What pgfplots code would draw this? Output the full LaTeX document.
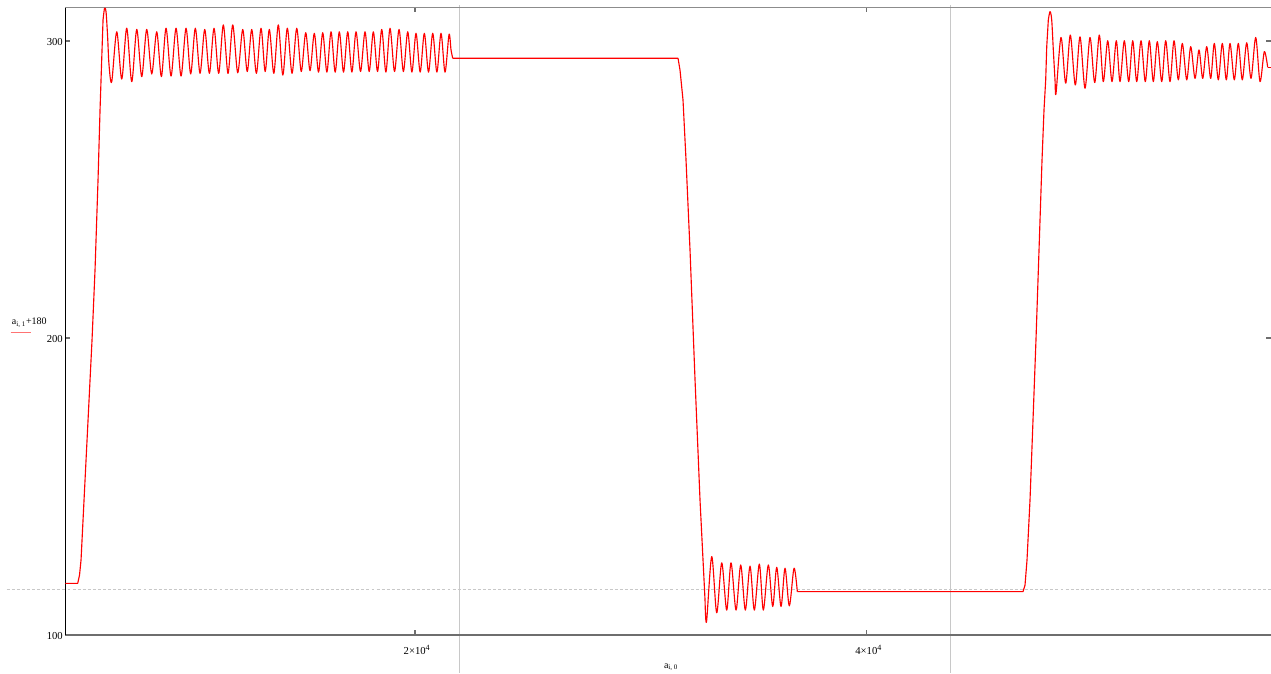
\documentclass[border=0pt]{standalone}
\usepackage{pgfplots}
\pgfplotsset{compat=1.18}
\usepackage{fontspec}
\setmainfont{Liberation Serif}
\definecolor{gridg}{RGB}{200,200,200}
\definecolor{axg}{RGB}{110,110,110}
\definecolor{topg}{RGB}{140,140,140}
\pgfplotsset{sig/.style={red, line width=0.85pt, line join=round, mark=none}}
\begin{document}
\begin{tikzpicture}[font=\fontsize{8}{9.6}\selectfont]
\begin{axis}[
  at={(0pt,0pt)}, anchor=south west,
  scale only axis, width=904.3pt, height=470.5pt,
  xmin=4516, xmax=57901, ymin=100, ymax=311.2,
  axis line style={draw=none},
  clip=false,
  xtick={20000,40000},
  xticklabels={2×10\textsuperscript{4},4×10\textsuperscript{4}},
  ytick={100,200,300},
  yticklabels={100,200,300},
  tick align=inside,
  major tick length=3.5pt,
  tick style={color=axg, line width=0.8pt},
  xticklabel style={anchor=base, inner sep=0pt, yshift=-14.3pt, xshift=1.5pt},
  yticklabel style={anchor=east, inner sep=0pt, xshift=-1.7pt, yshift=-1pt},
]
% reference lines
\draw[gridg, line width=0.75pt] (axis cs:21948,312.1) -- (axis cs:21948,87.2);
\draw[gridg, line width=0.75pt] (axis cs:43719,312.1) -- (axis cs:43719,87.2);
\draw[gridg, line width=0.75pt, dash pattern=on 2.2pt off 1.6pt] (axis cs:1922,115.4) -- (axis cs:57901,115.4);
% axis lines
\draw[axg, line width=1.5pt] (axis cs:4516,100) -- (axis cs:57901,100);
\draw[topg, line width=1.1pt] (axis cs:4516,311.2) -- (axis cs:57901,311.2);
\draw[black, line width=0.8pt] (axis cs:4516,100) -- (axis cs:4516,311.2);
% data: rise 1
\addplot[sig] coordinates {
(4516,117.4) (5065,117.4) (5145,120.2) (5211,125.2) (5300,138.7) (5433,158.9) (5566,179.1) (5698,199.3) (5831,222.9) (5964,253.2) (6053,276.8) (6097,286.9) (6141,297.0) (6186,307.1)
};
% oscillation 1
\addplot[sig, smooth, tension=0.5] coordinates {
(6186,307.1) (6252,311.0) (6318,309.8) (6385,302.0) (6451,291.9) (6571,286.3)
(6792,303.1) (7014,287.2) (7235,304.3) (7457,286.3) (7678,303.9) (7899,288.0) (8120,303.9) (8342,288.9) (8563,303.1) (8769,288.0) (8975,304.3) (9197,288.2) (9418,304.3) (9640,288.2) (9861,304.3) (10067,288.9) (10272,304.3) (10481,289.1) (10689,303.9) (10895,289.1) (11100,304.3) (11306,289.1) (11512,305.4) (11720,289.1) (11928,305.4) (12150,289.3) (12371,303.9) (12571,289.7) (12770,303.9) (12976,289.1) (13181,304.3) (13365,289.7) (13549,303.9) (13748,289.1) (13947,305.4) (14147,288.5) (14346,304.3) (14554,289.1) (14762,304.3) (14962,289.7) (15161,302.8) (15351,290.0) (15541,302.6) (15727,289.5) (15913,302.8) (16097,289.5) (16281,303.1) (16465,289.5) (16648,303.1) (16834,289.5) (17020,303.1) (17204,289.5) (17388,303.1) (17587,289.7) (17786,303.1) (17970,289.7) (18154,303.1) (18340,289.7) (18526,303.9) (18710,289.5) (18893,304.3) (19093,289.7) (19292,303.9) (19485,289.7) (19677,303.1) (19861,289.5) (20044,302.6) (20228,289.5) (20412,302.6) (20598,289.5) (20784,302.6) (20968,289.5) (21151,302.6) (21328,289.5) (21505,302.2) (21594,297.0) (21669,294.2)
};
% flat + fall
\addplot[sig] coordinates {
(21669,294.2) (31645,294.2)
(31733,290.2) (31866,280.1) (31999,259.9) (32176,229.6) (32398,185.9) (32619,145.4) (32752,125.2) (32841,111.8)
};
% oscillation 2
\addplot[sig, smooth, tension=0.5] coordinates {
(32841,111.8) (32907,104.5) (33137,126.4) (33358,107.5) (33580,124.3) (33801,108.4) (33992,124.3) (34214,108.4) (34421,123.6) (34625,108.4) (34833,123.2) (35024,108.4) (35245,123.9) (35422,108.4) (35643,123.6) (35838,109.6) (36015,122.8) (36206,109.6) (36383,122.5) (36573,109.8) (36781,122.5) (36927,114.6)
};
% flat + rise 3
\addplot[sig] coordinates {
(36927,114.6) (46920,114.6)
(47009,116.8) (47097,125.2) (47230,145.4) (47363,172.4) (47496,199.7) (47629,229.6) (47762,259.9) (47850,276.8) (47925,286.9) (47970,298.0) (48041,307.1)
};
% oscillation 3
\addplot[sig, smooth, tension=0.5] coordinates {
(48041,307.1) (48116,309.9) (48191,307.1) (48262,297.0) (48337,286.9) (48382,282.4)
(48603,301.2) (48811,285.8) (49015,302.0) (49236,285.2) (49444,301.4) (49666,284.1) (49887,301.2) (50095,286.0) (50299,302.0) (50476,286.3) (50671,300.1) (50861,286.3) (51051,300.1) (51215,286.3) (51406,300.1) (51600,286.3) (51778,300.1) (51955,286.3) (52145,300.1) (52335,286.3) (52513,300.1) (52690,286.3) (52867,299.8) (53062,286.3) (53239,300.1) (53429,286.3) (53606,300.1) (53797,286.9) (53974,299.2) (54169,286.9) (54346,298.1) (54536,287.4) (54713,297.0) (54877,287.4) (55054,298.1) (55231,287.4) (55391,299.2) (55568,286.9) (55745,299.2) (55922,286.9) (56086,299.2) (56276,286.9) (56453,299.2) (56630,286.9) (56825,299.4) (57016,287.4) (57224,301.2) (57414,286.3) (57604,296.4) (57755,291.1)
};
\addplot[sig] coordinates {(57755,291.1) (57901,291.1)};
% labels
\node[anchor=base, inner sep=0pt, font=\fontsize{7.5}{9}\selectfont] at ([yshift=-25.1pt]axis cs:31335,100) {a\textsubscript{i, 0}};
\node[anchor=base west, inner sep=0pt, font=\fontsize{7.5}{9}\selectfont] at ([xshift=-40.2pt]axis cs:4516,204.4) {a\textsubscript{i, 1}+180};
\draw[red!55, line width=1.2pt] ([xshift=-41pt]axis cs:4516,201.8) -- ([xshift=-25.5pt]axis cs:4516,201.8);
\end{axis}
\pgfresetboundingbox
\path[use as bounding box] (-49pt,-28.5pt) rectangle (904.3pt,476.3pt);
\end{tikzpicture}
\end{document}
